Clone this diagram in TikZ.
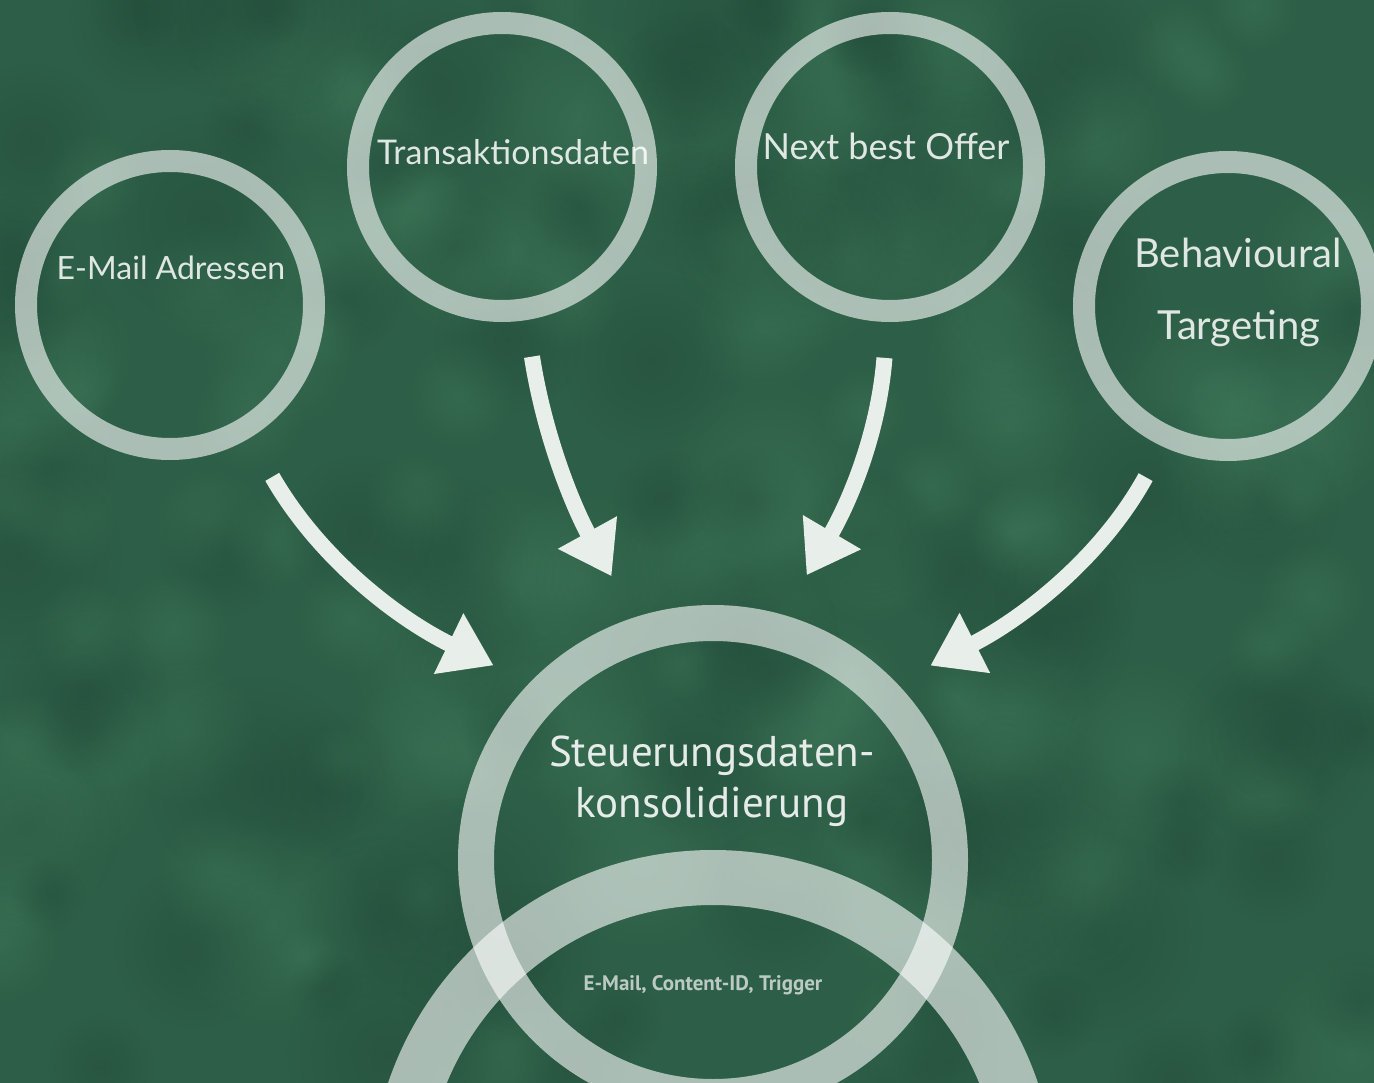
\documentclass[tikz,border=0pt]{standalone}
\usepackage{fontspec}
\setmainfont{PT Sans}
\newfontfamily\handfont{Lato}
\usetikzlibrary{arrows.meta,fadings}

\definecolor{board}{HTML}{2D5E47}
\definecolor{boardlight}{HTML}{44805F}
\definecolor{boarddark}{HTML}{1F4635}
\definecolor{chalkwhite}{HTML}{E8EEE9}

\tikzfading[name=softblob, inner color=transparent!0, outer color=transparent!100]

\tikzset{
  ring/.style={circle, draw=white, draw opacity=0.6, inner sep=0pt},
  small ring/.style={ring, line width=22pt, minimum size=288pt, outer sep=11pt},
  chalk/.style={text=white, text opacity=0.85, font=\handfont\fontsize{#1}{#1}\selectfont},
  chalk/.default=31,
  flow/.style={draw=chalkwhite, line width=16pt, -{Triangle[length=50pt,width=64pt]}},
}

\begin{document}
\begin{tikzpicture}[x=1pt, y=-1pt]
  \useasboundingbox (0,0) rectangle (1374,1083);
  \clip (0,0) rectangle (1374,1083);

  % chalkboard background with soft mottling
  \fill[board] (0,0) rectangle (1374,1083);
  \pgfmathsetseed{11}
  \foreach \i in {1,...,110}{
    \pgfmathsetmacro\bx{rnd*1374}
    \pgfmathsetmacro\by{rnd*1083}
    \pgfmathsetmacro\br{35+rnd*75}
    \fill[boardlight, opacity=0.35, path fading=softblob] (\bx,\by) circle (\br pt);
  }
  \foreach \i in {1,...,90}{
    \pgfmathsetmacro\bx{rnd*1374}
    \pgfmathsetmacro\by{rnd*1083}
    \pgfmathsetmacro\br{35+rnd*75}
    \fill[boarddark, opacity=0.35, path fading=softblob] (\bx,\by) circle (\br pt);
  }

  % source rings
  \node[small ring] (email) at (170,305) {};
  \node[small ring] (trans) at (502,167) {};
  \node[small ring] (offer) at (890,167) {};
  \node[small ring] (behav) at (1228,306) {};

  % consolidation ring and the ring below it
  \node[ring, line width=36pt, minimum size=474pt, outer sep=18pt] (hub) at (713,860) {};
  \node[ring, line width=55pt, minimum size=631pt, outer sep=27.5pt] (base) at (713,1193) {};

  % labels
  \node[chalk=32] (t-email) at (171,268) {E-Mail Adressen};
  \node[chalk=34] (t-trans) at (513,152) {Transaktionsdaten};
  \node[chalk=36] (t-offer) at (886,146) {Next best Offer};
  \node[chalk=40] (t-behav1) at (1238,253) {Behavioural};
  \node[chalk=40] (t-behav2) at (1239,328) {Targeting};

  \node[text=white, text opacity=0.88, align=center,
        font=\fontsize{43}{51}\selectfont] (t-hub) at (712,781)
        {Steuerungsdaten-\\konsolidierung};
  \node[text=white, text opacity=0.68, font=\bfseries\fontsize{21}{24}\selectfont]
        (t-base) at (703,985) {E-Mail, Content-ID, Trigger};

  % flows into the consolidation ring
  \draw[flow, shorten <=45pt, shorten >=40pt]
    (email.-59.5) .. controls (320,560) and (400,620) .. (hub.136);
  \draw[flow, shorten <=37pt, shorten >=47pt]
    (trans.-81) .. controls (545,440) and (575,510) .. (hub.108);
  \draw[flow, shorten <=36pt, shorten >=46pt]
    (offer.-91) .. controls (878,440) and (845,510) .. (hub.74);
  \draw[flow, shorten <=35pt, shorten >=38pt]
    (behav.-115) .. controls (1100,560) and (1020,620) .. (hub.44);
\end{tikzpicture}
\end{document}
